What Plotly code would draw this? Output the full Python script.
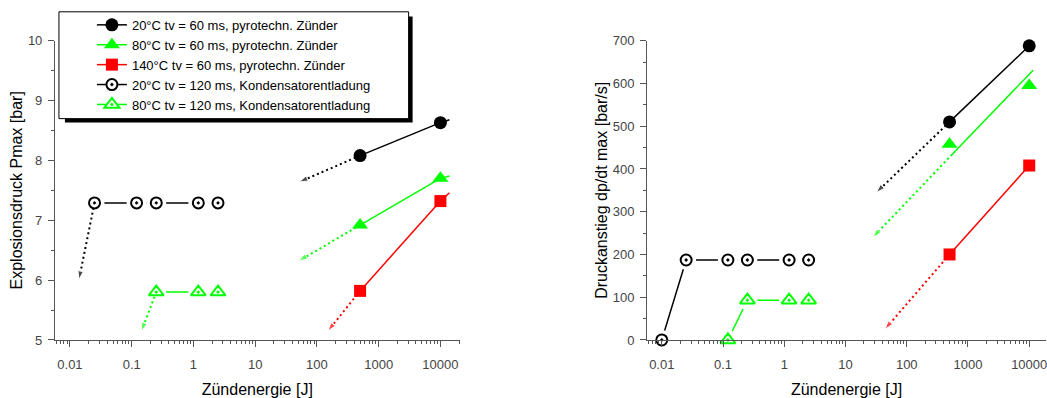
import plotly.graph_objects as go

# ---------------- data ----------------
# pyrotechnic igniters, tv = 60 ms
E_PYRO = [500, 10000]
E_EXT = [10000, 14000]          # continuation of the lines beyond the last point (left chart)

P_20_60 = [8.08, 8.63]
P_80_60 = [6.92, 7.70]
P_140_60 = [5.82, 7.32]
P_EXT_20 = [8.63, 8.68]
P_EXT_80 = [7.70, 7.74]
P_EXT_140 = [7.32, 7.46]

# capacitor discharge, tv = 120 ms
E_K20_L = [0.025, 0.12, 0.25, 1.2, 2.5]
P_20_120 = [7.29, 7.29, 7.29, 7.29, 7.29]
E_K80_L = [0.25, 1.2, 2.5]
P_80_120 = [5.80, 5.80, 5.80]

# dotted extrapolation arrows, left chart: [start, tip]
A_L_20_60_E, A_L_20_60_P = [500, 52], [8.08, 7.64]
A_L_80_60_E, A_L_80_60_P = [500, 51], [6.92, 6.32]
A_L_140_60_E, A_L_140_60_P = [500, 151], [5.82, 5.15]
A_L_20_120_E, A_L_20_120_P = [0.025, 0.014], [7.29, 6.01]
A_L_80_120_E, A_L_80_120_P = [0.25, 0.144], [5.80, 5.15]

# right chart: dp/dt max
R_20_60 = [510, 688]
R_80_60 = [458, 595]
R_140_60 = [200, 408]
E_FIT_80 = [550, 11600]
R_FIT_80 = [434, 631]

E_K20_R = [0.01, 0.025, 0.12, 0.25, 1.2, 2.5]
R_20_120 = [0, 187, 187, 187, 187, 187]
E_K80_R = [0.12, 0.25, 1.2, 2.5]
R_80_120 = [0, 93, 93, 93]

A_R_20_60_E, A_R_20_60_R = [500, 32], [510, 345]
A_R_80_60_E, A_R_80_60_R = [550, 28], [434, 240]
A_R_140_60_E, A_R_140_60_R = [500, 44], [200, 25]

LEGEND_NAMES = [
    "20°C tv = 60 ms, pyrotechn. Zünder",
    "80°C tv = 60 ms, pyrotechn. Zünder",
    "140°C tv = 60 ms, pyrotechn. Zünder",
    "20°C tv = 120 ms, Kondensatorentladung",
    "80°C tv = 120 ms, Kondensatorentladung",
]

X_TICKS = [0.01, 0.1, 1, 10, 100, 1000, 10000]
X_TICKTEXT = ["0.01", "0.1", "1", "10", "100", "1000", "10000"]
X_MINOR = [m * 10.0 ** d for d in range(-3, 5) for m in range(2, 10)]

BLACK, GREEN, RED = "#000000", "#00ff00", "#ff0000"
FONT = "Liberation Sans, Arial, sans-serif"

fig = go.Figure()


def arrow(xs, ys, color, xa, ya):
    fig.add_trace(go.Scatter(
        x=xs, y=ys, mode="lines+markers", xaxis=xa, yaxis=ya, showlegend=False,
        line=dict(color=color, width=2, dash="2px,3px"),
        marker=dict(symbol="arrow", size=[0, 9], angleref="previous", color=color),
        cliponaxis=False, hoverinfo="skip"))


def line(xs, ys, color, xa, ya, dash="solid"):
    fig.add_trace(go.Scatter(
        x=xs, y=ys, mode="lines", xaxis=xa, yaxis=ya, showlegend=False,
        line=dict(color=color, width=1.5, dash=dash), cliponaxis=False, hoverinfo="skip"))


def open_series(xs, ys, color, symbol, size, xa, ya, name=None):
    # line + markers (legend entry), white halo to leave gaps round markers, markers on top
    fig.add_trace(go.Scatter(
        x=xs, y=ys, mode="lines+markers", xaxis=xa, yaxis=ya, name=name,
        showlegend=name is not None, line=dict(color=color, width=1.5),
        marker=dict(symbol=symbol, size=size, color="white", line=dict(color=color, width=2)),
        cliponaxis=False))
    fig.add_trace(go.Scatter(
        x=xs, y=ys, mode="markers", xaxis=xa, yaxis=ya, showlegend=False,
        marker=dict(symbol="circle", size=20, color="white"), cliponaxis=False, hoverinfo="skip"))


def open_markers(xs, ys, color, symbol, size, xa, ya):
    fig.add_trace(go.Scatter(
        x=xs, y=ys, mode="markers", xaxis=xa, yaxis=ya, showlegend=False,
        marker=dict(symbol=symbol, size=size, color="white", line=dict(color=color, width=2)),
        cliponaxis=False))


# ---------------- left chart ----------------
arrow(A_L_20_60_E, A_L_20_60_P, BLACK, "x", "y")
arrow(A_L_80_60_E, A_L_80_60_P, GREEN, "x", "y")
arrow(A_L_140_60_E, A_L_140_60_P, RED, "x", "y")
line(E_EXT, P_EXT_20, BLACK, "x", "y")
line(E_EXT, P_EXT_80, GREEN, "x", "y")
line(E_EXT, P_EXT_140, RED, "x", "y")

fig.add_trace(go.Scatter(x=E_PYRO, y=P_20_60, mode="lines+markers", name=LEGEND_NAMES[0],
                         line=dict(color=BLACK, width=1.5),
                         marker=dict(symbol="circle", size=13, color=BLACK), cliponaxis=False))
fig.add_trace(go.Scatter(x=E_PYRO, y=P_80_60, mode="lines+markers", name=LEGEND_NAMES[1],
                         line=dict(color=GREEN, width=1.5),
                         marker=dict(symbol="triangle-up", size=14, color=GREEN), cliponaxis=False))
fig.add_trace(go.Scatter(x=E_PYRO, y=P_140_60, mode="lines+markers", name=LEGEND_NAMES[2],
                         line=dict(color=RED, width=1.5),
                         marker=dict(symbol="square", size=12, color=RED), cliponaxis=False))

open_series(E_K20_L, P_20_120, BLACK, "circle-dot", 11, "x", "y", LEGEND_NAMES[3])
open_series(E_K80_L, P_80_120, GREEN, "triangle-up-dot", 13, "x", "y", LEGEND_NAMES[4])
arrow(A_L_20_120_E, A_L_20_120_P, BLACK, "x", "y")
arrow(A_L_80_120_E, A_L_80_120_P, GREEN, "x", "y")
open_markers(E_K20_L, P_20_120, BLACK, "circle-dot", 11, "x", "y")
open_markers(E_K80_L, P_80_120, GREEN, "triangle-up-dot", 13, "x", "y")

# ---------------- right chart ----------------
arrow(A_R_20_60_E, A_R_20_60_R, BLACK, "x2", "y2")
arrow(A_R_80_60_E, A_R_80_60_R, GREEN, "x2", "y2")
arrow(A_R_140_60_E, A_R_140_60_R, RED, "x2", "y2")
line(E_FIT_80, R_FIT_80, GREEN, "x2", "y2")

fig.add_trace(go.Scatter(x=E_PYRO, y=R_20_60, mode="lines+markers", xaxis="x2", yaxis="y2",
                         showlegend=False, line=dict(color=BLACK, width=1.5),
                         marker=dict(symbol="circle", size=13, color=BLACK), cliponaxis=False))
fig.add_trace(go.Scatter(x=E_PYRO, y=R_80_60, mode="markers", xaxis="x2", yaxis="y2",
                         showlegend=False,
                         marker=dict(symbol="triangle-up", size=14, color=GREEN), cliponaxis=False))
fig.add_trace(go.Scatter(x=E_PYRO, y=R_140_60, mode="lines+markers", xaxis="x2", yaxis="y2",
                         showlegend=False, line=dict(color=RED, width=1.5),
                         marker=dict(symbol="square", size=12, color=RED), cliponaxis=False))

open_series(E_K20_R, R_20_120, BLACK, "circle-dot", 11, "x2", "y2")
open_series(E_K80_R, R_80_120, GREEN, "triangle-up-dot", 13, "x2", "y2")
open_markers(E_K20_R, R_20_120, BLACK, "circle-dot", 11, "x2", "y2")
open_markers(E_K80_R, R_80_120, GREEN, "triangle-up-dot", 13, "x2", "y2")

# ---------------- axes ----------------
W, H = 1047, 398
YDOM = [1 - 346 / H, 1 - 35 / H]
AX_COL = "#555555"
TICKFONT = dict(family=FONT, size=13, color="#444444")
TITLEFONT = dict(family=FONT, size=16, color="#000000")

common_x = dict(type="log", showline=True, linecolor=AX_COL, linewidth=1, ticks="outside",
                ticklen=6, tickcolor=AX_COL, tickmode="array", tickvals=X_TICKS,
                ticktext=X_TICKTEXT, showgrid=False, zeroline=False, tickfont=TICKFONT,
                ticklabelstandoff=6, ticklabeloverflow="allow",
                minor=dict(ticks="outside", ticklen=3, tickcolor=AX_COL, tickmode="array",
                           tickvals=X_MINOR, showgrid=False),
                title=dict(text="Zündenergie [J]", font=TITLEFONT, standoff=13))
common_y = dict(showline=True, linecolor=AX_COL, linewidth=1, ticks="outside", ticklen=6,
                tickcolor=AX_COL, showgrid=False, zeroline=False, tickfont=TICKFONT,
                ticklabelstandoff=3)

fig.update_layout(
    width=W, height=H, margin=dict(l=0, r=0, t=0, b=0),
    paper_bgcolor="white", plot_bgcolor="rgba(0,0,0,0)",
    font=dict(family=FONT, color="#000000"),
    xaxis=dict(domain=[55 / W, 460 / W], range=[-2.243, 4.31], anchor="y", **common_x),
    yaxis=dict(domain=YDOM, range=[5, 10], anchor="x", tickmode="linear", tick0=5, dtick=1,
               minor=dict(ticks="outside", ticklen=3, tickcolor=AX_COL, dtick=0.5, tick0=5,
                          showgrid=False),
               title=dict(text="Explosionsdruck Pmax [bar]", font=TITLEFONT, standoff=1),
               **common_y),
    xaxis2=dict(domain=[647.7 / W, 1.0], range=[-2.24, 4.274], anchor="y2", **common_x),
    yaxis2=dict(domain=YDOM, range=[0, 700], anchor="x2", tickmode="linear", tick0=0, dtick=100,
                minor=dict(ticks="outside", ticklen=3, tickcolor=AX_COL, dtick=50, tick0=0,
                           showgrid=False),
                title=dict(text="Druckanstieg dp/dt max [bar/s]", font=TITLEFONT, standoff=1),
                **common_y),
    legend=dict(x=92 / W, y=1 - 3 / H, xanchor="left", yanchor="top",
                bgcolor="rgba(0,0,0,0)", borderwidth=0,
                font=dict(family=FONT, size=13, color="#000000")),
    showlegend=True,
    shapes=[
        dict(type="rect", xref="paper", yref="paper", layer="above",
             x0=65 / W, x1=413 / W, y0=1 - 120 / H, y1=1 - 10 / H,
             fillcolor="#000000", line=dict(width=0)),
        dict(type="rect", xref="paper", yref="paper", layer="above",
             x0=59 / W, x1=409 / W, y0=1 - 116 / H, y1=1 - 5 / H,
             fillcolor="#ffffff", line=dict(color="#000000", width=1)),
    ],
)

fig.write_html("out.html")
